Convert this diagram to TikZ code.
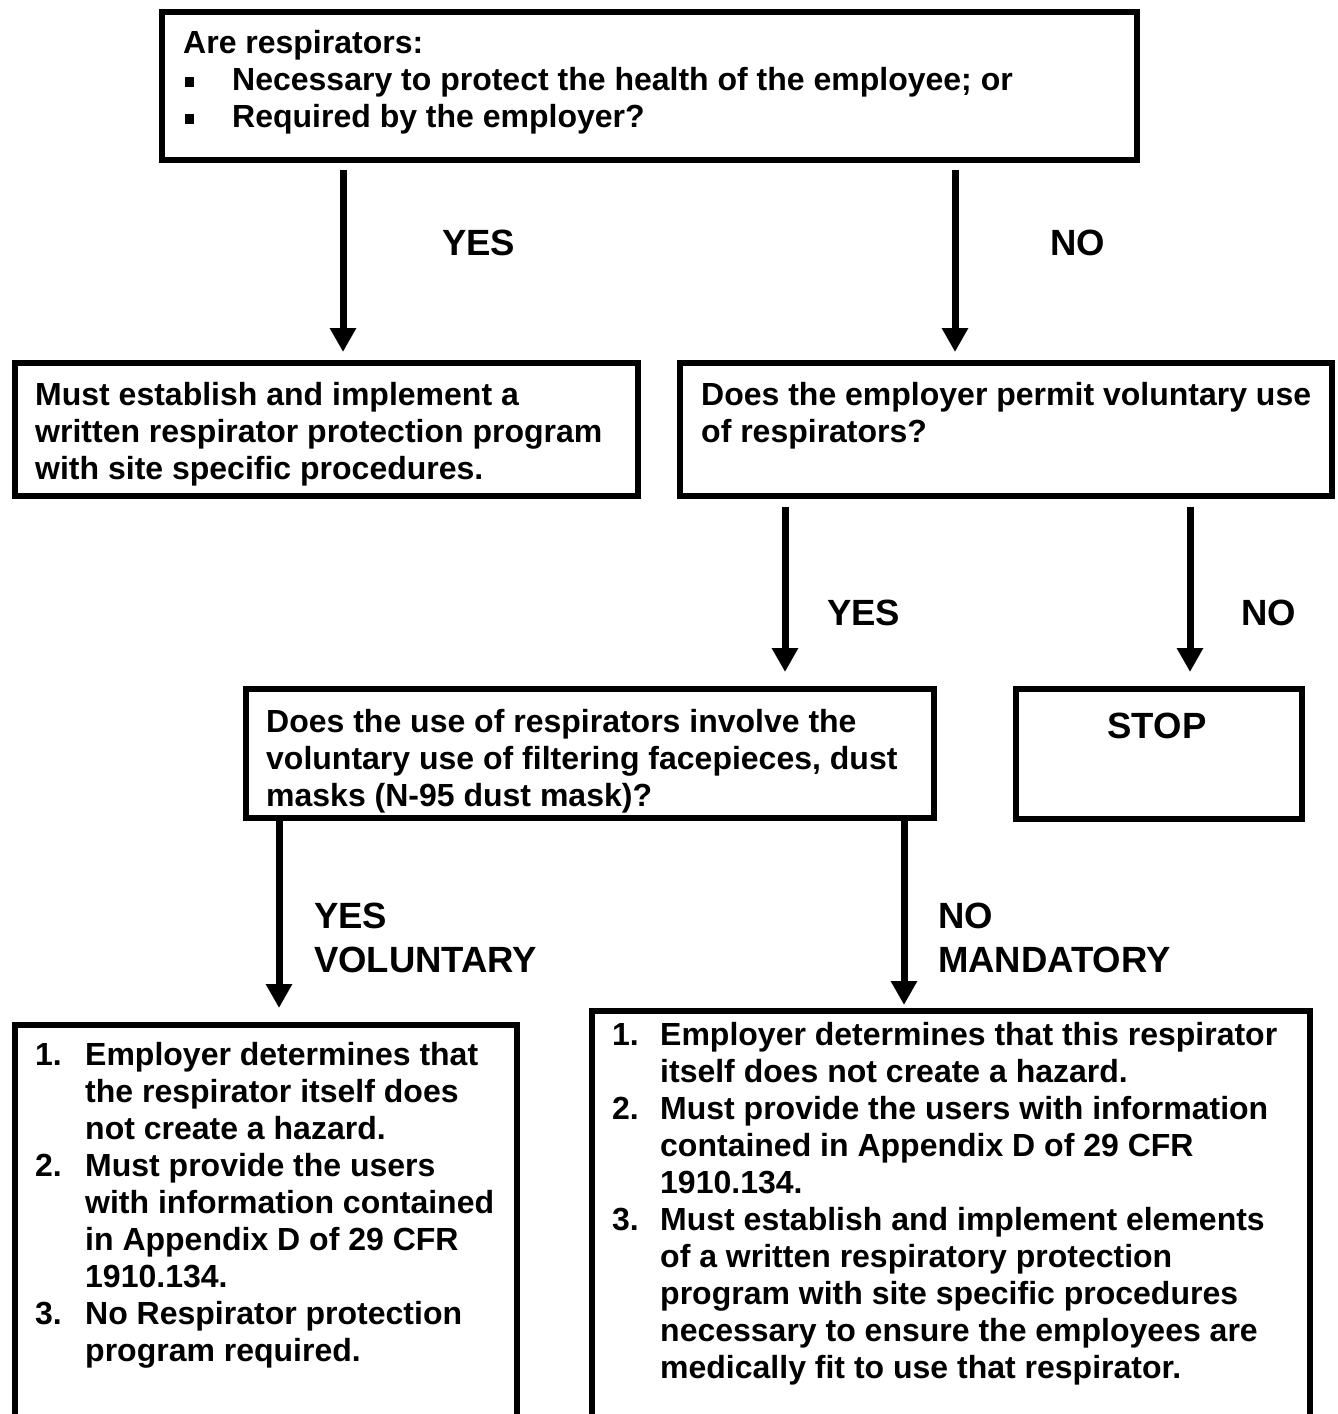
\documentclass[tikz,border=0pt]{standalone}
\usepackage{fontspec}
\setmainfont{Liberation Sans}
\usetikzlibrary{arrows.meta}
\newcommand\qbul{\makebox[49pt][l]{\hspace{2pt}\rule[3pt]{9pt}{10pt}}}
\newcommand\lnum[2]{\makebox[#1][l]{#2}}
\begin{document}
\begin{tikzpicture}[x=1pt,y=-1pt,
  box/.style={draw=black, line width=6pt, inner sep=0pt, outer sep=0pt, anchor=north west, rectangle},
  txt/.style={inner sep=0pt, anchor=north west, align=left, font=\fontsize{32}{37}\selectfont\bfseries},
  lbl/.style={inner sep=0pt, anchor=base west, font=\fontsize{36.5}{44}\selectfont\bfseries},
  arr/.style={line width=7pt, -{Triangle[width=25pt,length=24pt]}},
]
\fill[white] (0,0) rectangle (1338,1414);
\useasboundingbox (0,0) rectangle (1338,1414);

% boxes
\node[box, minimum width=975pt, minimum height=148pt] (q1) at (162,12) {};
\node[box, minimum width=623.5pt, minimum height=133pt] (r1) at (14.5,363) {};
\node[box, minimum width=652pt, minimum height=133pt] (q2) at (680,363) {};
\node[box, minimum width=688.5pt, minimum height=129pt] (q3) at (245.5,689) {};
\node[box, minimum width=286pt, minimum height=130pt] (stop) at (1016,689) {};
\node[box, minimum width=502pt, minimum height=440pt] (v) at (15,1025) {};
\node[box, minimum width=718pt, minimum height=440pt] (m) at (592,1011) {};

% texts
\node[txt] (q1t) at (183,27.1) {\strut Are respirators:\\
\qbul Necessary to protect the health of the employee; or\\
\qbul Required by the employer?};
\node[txt] (r1t) at (35,379.1) {\strut Must establish and implement a\\
written respirator protection program\\
with site specific procedures.};
\node[txt] (q2t) at (701,379.1) {\strut Does the employer permit voluntary use\\
of respirators?};
\node[txt] (q3t) at (266,706.1) {\strut Does the use of respirators involve the\\
voluntary use of filtering facepieces, dust\\
masks (N-95 dust mask)?};
\node[txt] (vt) at (35,1039.1) {\strut\lnum{50pt}{1.}Employer determines that\\
\lnum{50pt}{}the respirator itself does\\
\lnum{50pt}{}not create a hazard.\\
\lnum{50pt}{2.}Must provide the users\\
\lnum{50pt}{}with information contained\\
\lnum{50pt}{}in Appendix D of 29 CFR\\
\lnum{50pt}{}1910.134.\\
\lnum{50pt}{3.}No Respirator protection\\
\lnum{50pt}{}program required.};
\node[txt] (mt) at (612,1019.1) {\strut\lnum{48pt}{1.}Employer determines that this respirator\\
\lnum{48pt}{}itself does not create a hazard.\\
\lnum{48pt}{2.}Must provide the users with information\\
\lnum{48pt}{}contained in Appendix D of 29 CFR\\
\lnum{48pt}{}1910.134.\\
\lnum{48pt}{3.}Must establish and implement elements\\
\lnum{48pt}{}of a written respiratory protection\\
\lnum{48pt}{}program with site specific procedures\\
\lnum{48pt}{}necessary to ensure the employees are\\
\lnum{48pt}{}medically fit to use that respirator.};
\node[lbl, anchor=base] (stopt) at (1157,738) {STOP};

% labels
\node[lbl] (l1) at (442,255) {YES};
\node[lbl] (l2) at (1050,255) {NO};
\node[lbl] (l3) at (827,625) {YES};
\node[lbl] (l4) at (1241,625) {NO};
\node[lbl, anchor=north west, align=left] (l5) at (314,897.2) {\strut YES\\VOLUNTARY};
\node[lbl, anchor=north west, align=left] (l6) at (938,897.2) {\strut NO\\MANDATORY};

% arrow columns
\coordinate (c1) at (343,0);
\coordinate (c2) at (955,0);
\coordinate (c3) at (785,0);
\coordinate (c4) at (1190,0);
\coordinate (c5) at (279,0);
\coordinate (c6) at (904,0);

\draw[arr, shorten <=10pt, shorten >=11pt] (q1.south -| c1) -- (r1.north -| c1);
\draw[arr, shorten <=10pt, shorten >=11pt] (q1.south -| c2) -- (q2.north -| c2);
\draw[arr, shorten <=11pt, shorten >=17pt] (q2.south -| c3) -- (q3.north -| c3);
\draw[arr, shorten <=11pt, shorten >=17pt] (q2.south -| c4) -- (stop.north -| c4);
\draw[arr, shorten >=17pt] (q3.south -| c5) -- (v.north -| c5);
\draw[arr, shorten >=6pt] (q3.south -| c6) -- (m.north -| c6);
\end{tikzpicture}
\end{document}
